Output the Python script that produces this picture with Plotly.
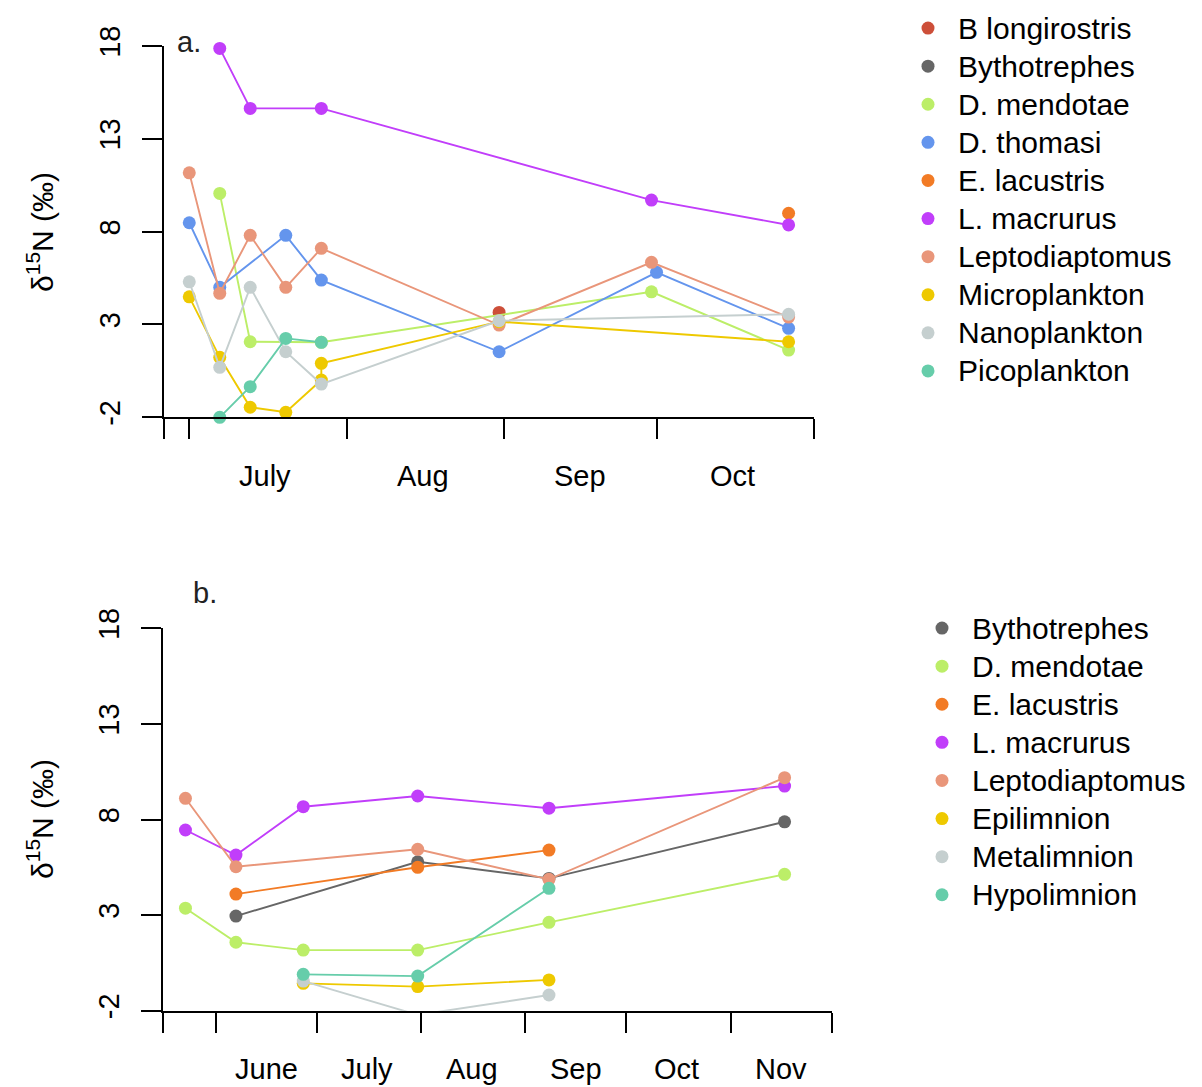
import plotly.graph_objects as go

FONT = "Liberation Sans, Arial, sans-serif"
# the page body has an 8px margin, so the figure is drawn 8px in from the window edge
OFF = 8
W, H = 1202 - OFF, 1087 - OFF

# ---------------- data: panel a ----------------
a_names = ["B longirostris", "Bythotrephes", "D. mendotae", "D. thomasi", "E. lacustris",
           "L. macrurus", "Leptodiaptomus", "Microplankton", "Nanoplankton", "Picoplankton"]
a_colors = ["#CD4F39", "#666666", "#BCEE68", "#6495ED", "#F27B25",
            "#C13EFA", "#E9967A", "#EEC900", "#C5CFCF", "#66CDAA"]

blong_a_dates = ["2014-08-31"]
blong_a_vals = [3.65]
bytho_a_dates = []
bytho_a_vals = []
dmend_a_dates = ["2014-07-07", "2014-07-13", "2014-07-27", "2014-09-30", "2014-10-27"]
dmend_a_vals = [10.06, 2.07, 2.04, 4.76, 1.62]
dthom_a_dates = ["2014-07-01", "2014-07-07", "2014-07-20", "2014-07-27", "2014-08-31", "2014-10-01", "2014-10-27"]
dthom_a_vals = [8.48, 5.0, 7.80, 5.39, 1.53, 5.81, 2.79]
elac_a_dates = ["2014-10-27"]
elac_a_vals = [8.99]
lmac_a_dates = ["2014-07-07", "2014-07-13", "2014-07-27", "2014-09-30", "2014-10-27"]
lmac_a_vals = [17.87, 14.64, 14.64, 9.70, 8.36]
lepto_a_dates = ["2014-07-01", "2014-07-07", "2014-07-13", "2014-07-20", "2014-07-27", "2014-08-31", "2014-09-30", "2014-10-27"]
lepto_a_vals = [11.17, 4.68, 7.80, 5.0, 7.10, 2.97, 6.35, 3.4]
micro_a_dates = ["2014-07-01", "2014-07-07", "2014-07-13", "2014-07-20", "2014-07-27", "2014-07-27", "2014-08-31", "2014-10-27"]
micro_a_vals = [4.49, 1.23, -1.46, -1.73, 0.01, 0.91, 3.15, 2.07]
nano_a_dates = ["2014-07-01", "2014-07-07", "2014-07-13", "2014-07-20", "2014-07-27", "2014-08-31", "2014-10-27"]
nano_a_vals = [5.30, 0.69, 5.0, 1.53, -0.21, 3.20, 3.55]
pico_a_dates = ["2014-07-07", "2014-07-13", "2014-07-20", "2014-07-27"]
pico_a_vals = [-2.0, -0.35, 2.25, 2.04]

a_series = [(blong_a_dates, blong_a_vals), (bytho_a_dates, bytho_a_vals), (dmend_a_dates, dmend_a_vals),
            (dthom_a_dates, dthom_a_vals), (elac_a_dates, elac_a_vals), (lmac_a_dates, lmac_a_vals),
            (lepto_a_dates, lepto_a_vals), (micro_a_dates, micro_a_vals), (nano_a_dates, nano_a_vals),
            (pico_a_dates, pico_a_vals)]

# ---------------- data: panel b ----------------
b_names = ["Bythotrephes", "D. mendotae", "E. lacustris", "L. macrurus", "Leptodiaptomus",
           "Epilimnion", "Metalimnion", "Hypolimnion"]
b_colors = ["#666666", "#BCEE68", "#F27B25", "#C13EFA", "#E9967A", "#EEC900", "#C5CFCF", "#66CDAA"]

bytho_b_dates = ["2014-06-07", "2014-07-31", "2014-09-08", "2014-11-17"]
bytho_b_vals = [2.95, 5.79, 4.92, 7.88]
dmend_b_dates = ["2014-05-23", "2014-06-07", "2014-06-27", "2014-07-31", "2014-09-08", "2014-11-17"]
dmend_b_vals = [3.36, 1.58, 1.17, 1.17, 2.62, 5.13]
elac_b_dates = ["2014-06-07", "2014-07-31", "2014-09-08"]
elac_b_vals = [4.10, 5.50, 6.40]
lmac_b_dates = ["2014-05-23", "2014-06-07", "2014-06-27", "2014-07-31", "2014-09-08", "2014-11-17"]
lmac_b_vals = [7.45, 6.14, 8.67, 9.23, 8.59, 9.75]
lepto_b_dates = ["2014-05-23", "2014-06-07", "2014-07-31", "2014-09-08", "2014-11-17"]
lepto_b_vals = [9.11, 5.53, 6.44, 4.87, 10.19]
epi_b_dates = ["2014-06-27", "2014-07-31", "2014-09-08"]
epi_b_vals = [-0.57, -0.74, -0.39]
meta_b_dates = ["2014-06-27", "2014-07-31", "2014-09-08"]
meta_b_vals = [-0.45, -2.22, -1.18]
hypo_b_dates = ["2014-06-27", "2014-07-31", "2014-09-08"]
hypo_b_vals = [-0.10, -0.19, 4.40]

b_series = [(bytho_b_dates, bytho_b_vals), (dmend_b_dates, dmend_b_vals), (elac_b_dates, elac_b_vals),
            (lmac_b_dates, lmac_b_vals), (lepto_b_dates, lepto_b_vals), (epi_b_dates, epi_b_vals),
            (meta_b_dates, meta_b_vals), (hypo_b_dates, hypo_b_vals)]

y_ticks = [-2, 3, 8, 13, 18]
y_tick_labels = ["-2", "3", "8", "13", "18"]
a_month_ticks = ["2014-06-26 02:00", "2014-07-01", "2014-08-01", "2014-09-01", "2014-10-01", "2014-11-01"]
a_month_labels = ["July", "Aug", "Sep", "Oct"]
a_month_mid = ["2014-07-16", "2014-08-16", "2014-09-16", "2014-10-16"]
b_month_ticks = ["2014-05-16 10:00", "2014-06-01", "2014-07-01", "2014-08-01", "2014-09-01",
                 "2014-10-01", "2014-11-01", "2014-12-01"]
b_month_labels = ["June", "July", "Aug", "Sep", "Oct", "Nov"]
b_month_mid = ["2014-06-16", "2014-07-16", "2014-08-16", "2014-09-16", "2014-10-16", "2014-11-16"]


def px(x):
    return (x - OFF) / W


def py(y):
    return 1 - (y - OFF) / H


fig = go.Figure()


def add_panel(names, colors, series, xa, ya, legend):
    for name, col, (d, v) in zip(names, colors, series):
        label = '<span style="font-size:30px">%s</span>' % name
        if len(d) > 0:
            fig.add_trace(go.Scatter(x=d, y=v, mode="lines", line=dict(color=col, width=1.9),
                                     showlegend=False, hoverinfo="skip", xaxis=xa, yaxis=ya))
            fig.add_trace(go.Scatter(x=d, y=v, mode="markers", name=label, legend=legend,
                                     marker=dict(color=col, size=13), cliponaxis=False,
                                     xaxis=xa, yaxis=ya))
        else:
            fig.add_trace(go.Scatter(x=[None], y=[None], mode="markers", name=label, legend=legend,
                                     marker=dict(color=col, size=13), xaxis=xa, yaxis=ya))


add_panel(a_names, a_colors, a_series, "x", "y", "legend")
add_panel(b_names, b_colors, b_series, "x2", "y2", "legend2")

xcommon = dict(type="date", tickmode="array", showticklabels=False, ticks="outside", ticklen=20,
               tickwidth=2, tickcolor="black", showline=True, linecolor="black", linewidth=2,
               showgrid=False, zeroline=False, automargin=False)
ycommon = dict(range=[-2, 18], tickmode="array", tickvals=y_ticks, ticktext=y_tick_labels,
               tickangle=-90, ticks="outside",
               ticklen=20, tickwidth=2, tickcolor="black", showline=True, linecolor="black",
               linewidth=2, showgrid=False, zeroline=False, automargin=False, ticklabelstandoff=11,
               tickfont=dict(family=FONT, size=29, color="black"))

fig.update_layout(
    width=W, height=H, margin=dict(l=0, r=0, t=0, b=0, autoexpand=False),
    paper_bgcolor="white", plot_bgcolor="white",
    font=dict(family=FONT, color="black"),
    xaxis=dict(domain=[px(164.3), px(814)], anchor="y",
               range=[a_month_ticks[0], a_month_ticks[-1]], tickvals=a_month_ticks, **xcommon),
    yaxis=dict(domain=[py(417.3), py(46)], anchor="x", **ycommon),
    xaxis2=dict(domain=[px(163.3), px(831.7)], anchor="y2",
                range=[b_month_ticks[0], b_month_ticks[-1]], tickvals=b_month_ticks, **xcommon),
    yaxis2=dict(domain=[py(1010.7), py(628.3)], anchor="x2", **ycommon),
    legend=dict(x=px(898), y=py(4), xanchor="left", yanchor="top", itemwidth=50,
                font=dict(family=FONT, size=27, color="black"), bgcolor="rgba(0,0,0,0)"),
    legend2=dict(x=px(912), y=py(604), xanchor="left", yanchor="top", itemwidth=50,
                 font=dict(family=FONT, size=27, color="black"), bgcolor="rgba(0,0,0,0)"),
)

ann = []
for lab, mid in zip(a_month_labels, a_month_mid):
    ann.append(dict(x=mid, y=py(476), xref="x", yref="paper", text=lab, showarrow=False,
                    xanchor="center", yanchor="middle", font=dict(family=FONT, size=29, color="black")))
for lab, mid in zip(b_month_labels, b_month_mid):
    ann.append(dict(x=mid, y=py(1069), xref="x2", yref="paper", text=lab, showarrow=False,
                    xanchor="center", yanchor="middle", font=dict(family=FONT, size=29, color="black")))
ytitle = "\u03b4<sup>15</sup>N (\u2030)"
for yc in (232, 819):
    ann.append(dict(x=px(40), y=py(yc), xref="paper", yref="paper", text=ytitle, textangle=-90,
                    showarrow=False, xanchor="center", yanchor="middle",
                    font=dict(family=FONT, size=30, color="black")))
ann.append(dict(x=px(189), y=py(42), xref="paper", yref="paper", text="a.", showarrow=False,
                xanchor="center", yanchor="middle", font=dict(family=FONT, size=29, color="#222")))
ann.append(dict(x=px(205), y=py(593), xref="paper", yref="paper", text="b.", showarrow=False,
                xanchor="center", yanchor="middle", font=dict(family=FONT, size=29, color="#222")))
fig.update_layout(annotations=ann)

fig.write_html("out.html")
